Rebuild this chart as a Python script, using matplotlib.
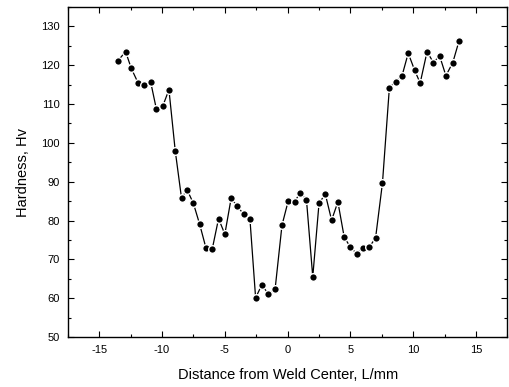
import matplotlib
matplotlib.use("Agg")
import matplotlib.pyplot as plt
from matplotlib.ticker import MultipleLocator

# Hardness profile across the weld
distance = [-13.5, -12.9, -12.45, -11.9, -11.4, -10.9, -10.45, -9.95, -9.45, -8.95,
            -8.45, -8.0, -7.5, -7.0, -6.5, -6.0, -5.5, -5.0, -4.5, -4.0,
            -3.5, -3.0, -2.55, -2.05, -1.55, -1.0, -0.45, 0.05, 0.55, 1.0,
            1.5, 2.0, 2.5, 3.0, 3.5, 4.0, 4.5, 5.0, 5.5, 6.0,
            6.5, 7.0, 7.55, 8.1, 8.6, 9.1, 9.6, 10.1, 10.55, 11.1,
            11.6, 12.1, 12.6, 13.15, 13.65]
hardness = [121.2, 123.5, 119.2, 115.4, 114.8, 115.6, 108.7, 109.4, 113.7, 98.0,
            85.8, 87.9, 84.4, 79.0, 72.9, 72.7, 80.5, 76.5, 85.7, 83.7,
            81.6, 80.3, 60.1, 63.5, 61.1, 62.3, 78.8, 85.1, 84.8, 87.2,
            85.3, 65.5, 84.5, 86.8, 80.1, 84.8, 75.8, 73.1, 71.5, 73.0,
            73.2, 75.5, 89.7, 114.2, 115.8, 117.2, 123.1, 118.8, 115.4, 123.5,
            120.7, 122.4, 117.3, 120.7, 126.3]

x_ticks = [-15, -10, -5, 0, 5, 10, 15]
y_ticks = [50, 60, 70, 80, 90, 100, 110, 120, 130]

plt.rcParams['font.family'] = ['Liberation Sans', 'DejaVu Sans']
plt.rcParams['axes.unicode_minus'] = False

fig = plt.figure(figsize=(5.1, 3.87), dpi=100)
ax = fig.add_axes([0.133, 0.129, 0.862, 0.853])

ax.plot(distance, hardness, color='black', linewidth=0.9,
        marker='o', markersize=5.5, markerfacecolor='black',
        markeredgecolor='white', markeredgewidth=1.0)

ax.set_xlim(-17.5, 17.5)
ax.set_ylim(50, 135)
ax.set_xticks(x_ticks)
ax.set_yticks(y_ticks)
ax.xaxis.set_minor_locator(MultipleLocator(2.5))
ax.yaxis.set_minor_locator(MultipleLocator(5))
ax.tick_params(which='both', direction='in', top=True, right=True, labelsize=8)
ax.tick_params(which='major', length=4, width=0.8, pad=6)
ax.tick_params(which='minor', length=2, width=0.8)
for s in ax.spines.values():
    s.set_linewidth(1.0)

ax.set_xlabel('Distance from Weld Center, L/mm', fontsize=10.5, labelpad=9)
ax.set_ylabel('Hardness, Hv', fontsize=10.5, labelpad=8)

fig.savefig('out.png', dpi=100)
